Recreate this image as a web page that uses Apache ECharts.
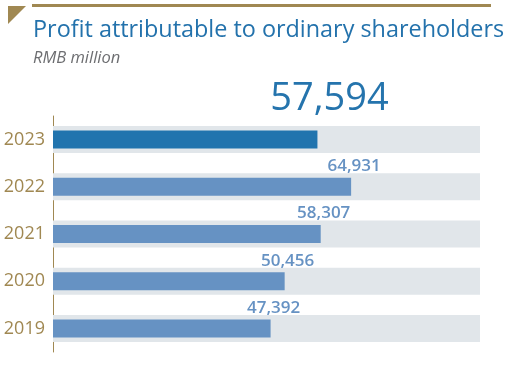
<!DOCTYPE html>
<html>
<head>
<meta charset="utf-8">
<script src="https://cdn.jsdelivr.net/npm/echarts@6/dist/echarts.min.js"></script>
<style>
  html, body { margin: 0; padding: 0; background: #fff; }
  #profit-chart { width: 512px; height: 376px; }
</style>
</head>
<body>
<div id="profit-chart"></div>
<script>
var years = ['2023', '2022', '2021', '2020', '2019'];
var profits = [57594, 64931, 58307, 50456, 47392];
var axisMax = 93000;
var trackValues = years.map(function () { return axisMax; });

function profitChart() {
    var chart = echarts.init(document.getElementById('profit-chart'));
    var gold = '#a08852';
    var font = '"Open Sans", sans-serif';

    // latest year gets the dark bar and the big headline number
    var barData = profits.map(function (v, i) {
        if (i === 0) {
            return {
                value: v,
                itemStyle: { color: '#2174ae' },
                label: {
                    fontSize: 38,
                    fontWeight: 'normal',
                    color: '#2574ad',
                    offset: [12, -12]
                }
            };
        }
        return v;
    });

    var option = {
        animation: false,
        textStyle: { fontFamily: font },
        graphic: [
            { type: 'rect', shape: { x: 32, y: 4, width: 459, height: 3 }, style: { fill: gold } },
            { type: 'polygon', shape: { points: [[8, 6], [26, 6], [8, 24]] }, style: { fill: gold } },
            {
                type: 'text', x: 33, y: 42,
                style: {
                    text: 'Profit attributable to ordinary shareholders',
                    font: '23.4px "Open Sans", sans-serif',
                    fill: '#2372ac',
                    verticalAlign: 'bottom'
                }
            },
            {
                type: 'text', x: 33, y: 67,
                style: {
                    text: 'RMB million',
                    font: 'italic 16.5px "Open Sans", sans-serif',
                    fill: '#6d6e71',
                    verticalAlign: 'bottom'
                }
            }
        ],
        grid: { left: 53, top: 116, width: 427, height: 236 },
        xAxis: {
            type: 'value',
            min: 0,
            max: axisMax,
            show: false
        },
        yAxis: [
            {
                type: 'category',
                data: years,
                inverse: true,
                axisLine: { show: true, lineStyle: { color: gold, width: 1 } },
                axisTick: { show: false },
                axisLabel: { color: gold, fontSize: 18, margin: 8, fontFamily: font }
            },
            {
                type: 'category',
                data: years,
                inverse: true,
                show: false
            }
        ],
        series: [
            {
                type: 'bar',
                yAxisIndex: 1,
                data: trackValues,
                barWidth: 27,
                itemStyle: { color: '#e1e6ea' },
                silent: true,
                z: 1
            },
            {
                type: 'bar',
                yAxisIndex: 0,
                data: barData,
                barWidth: 18,
                itemStyle: { color: '#6692c3' },
                z: 2,
                label: {
                    show: true,
                    position: ['100%', 0],
                    align: 'center',
                    verticalAlign: 'bottom',
                    offset: [3, -3],
                    fontSize: 17,
                    fontWeight: 600,
                    color: '#6692c3',
                    formatter: function (p) {
                        return p.value.toLocaleString('en-US');
                    }
                }
            }
        ]
    };

    option && chart.setOption(option);
}

profitChart();
</script>
</body>
</html>
